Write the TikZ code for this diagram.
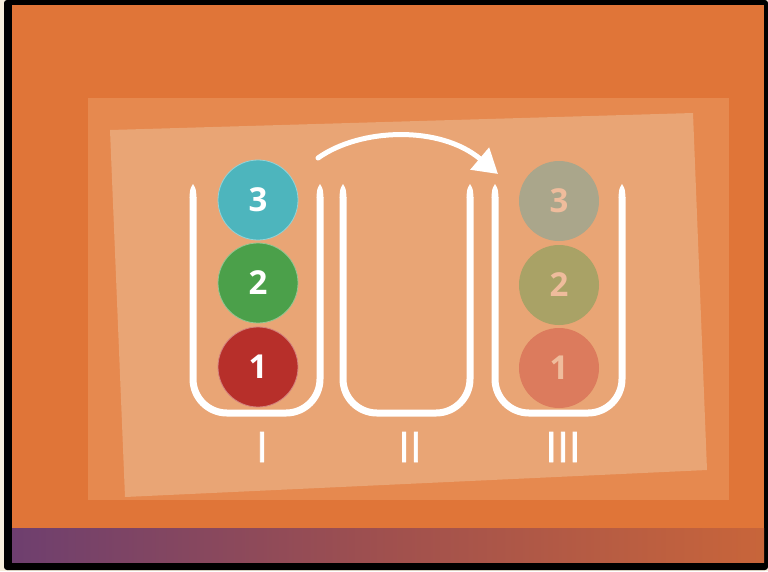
\documentclass[tikz,border=0pt]{standalone}
\usepackage{fontspec}
\setmainfont{Open Sans}
\newfontfamily\numfont[FakeBold=1.6]{Open Sans}
\usetikzlibrary{arrows.meta}
\definecolor{cream}{HTML}{F6EEDC}
\definecolor{bgorange}{HTML}{E07538}
\definecolor{panel}{HTML}{E6894F}
\definecolor{card}{HTML}{E9A575}
\definecolor{tealb}{HTML}{4DB5BD}
\definecolor{greenb}{HTML}{4BA04A}
\definecolor{redb}{HTML}{B72F2A}
\definecolor{greyb}{HTML}{AAA68B}
\definecolor{oliveb}{HTML}{A9A266}
\definecolor{salmonb}{HTML}{DC7B5D}
\definecolor{peachtxt}{HTML}{EFBC9C}
\definecolor{purpleL}{HTML}{6E3F6F}
\definecolor{purpleM}{HTML}{A0504E}
\definecolor{orangeR}{HTML}{C8653A}
\tikzset{
  tube/.style={draw=white, line width=7pt, rounded corners=34pt},
  tip/.style={fill=white},
  ball/.style={circle, minimum size=80pt, inner sep=0pt, draw=#1!60!white, line width=0.8pt,
    font=\fontsize{33}{33}\selectfont\bfseries, text=white},
  fadeball/.style={circle, minimum size=80pt, inner sep=0pt,
    font=\fontsize{33}{33}\selectfont\bfseries, text=peachtxt},
  numeral/.style={text=white, font=\fontsize{42}{42}\numfont, inner sep=0pt}
}
\newcommand{\tubeshape}[4]{% left x, right x, bottom y, top y
  \draw[tube] (#1,#4+13) -- (#1,#3) -- (#2,#3) -- (#2,#4+13);
  \fill[tip] (#1-3.5,#4+13.5) .. controls (#1-3,#4+5) .. (#1,#4) .. controls (#1+3,#4+5) .. (#1+3.5,#4+13.5) -- cycle;
  \fill[tip] (#2-3.5,#4+13.5) .. controls (#2-3,#4+5) .. (#2,#4) .. controls (#2+3,#4+5) .. (#2+3.5,#4+13.5) -- cycle;
}
\begin{document}
\begin{tikzpicture}[x=1pt,y=-1pt]
\useasboundingbox (0,0) rectangle (768,571);
\fill[cream] (0,0) rectangle (768,571);
\fill[black, rounded corners=3pt] (4,0) rectangle (768,570);
\fill[bgorange] (12,5) rectangle (764,562);
\shade[left color=purpleL, right color=orangeR, middle color=purpleM] (12,528) rectangle (764,562);
\fill[panel] (88,98) rectangle (729,500);
\fill[card] (110,130) -- (693,113) -- (707,470) -- (125,497) -- cycle;

% tubes
\tubeshape{193}{320}{413}{184}
\tubeshape{343}{470}{413}{184}
\tubeshape{495}{622}{413}{184}

% balls tube I
\node[ball=tealb, fill=tealb] (b3) at (258,200) {3};
\node[ball=greenb, fill=greenb] (b2) at (258,283) {2};
\node[ball=redb, fill=redb] (b1) at (258,367) {1};
% faded balls tube III
\node[fadeball, fill=greyb] (c3) at (559,201) {3};
\node[fadeball, fill=oliveb] (c2) at (559,285) {2};
\node[fadeball, fill=salmonb] (c1) at (559,368) {1};

% arrow
\coordinate (as) at (318,158);
\coordinate (ae) at (498,174);
\draw[white, line width=5pt, line cap=round, -{Triangle[length=24pt,width=28pt]}]
  (as) .. controls (360,128) and (440,125) .. (ae);

% labels
\node[numeral] (l1) at (262,447) {I};
\node[numeral] (l2) at (410,447) {II};
\node[numeral] (l3) at (563,447) {III};
\end{tikzpicture}
\end{document}
